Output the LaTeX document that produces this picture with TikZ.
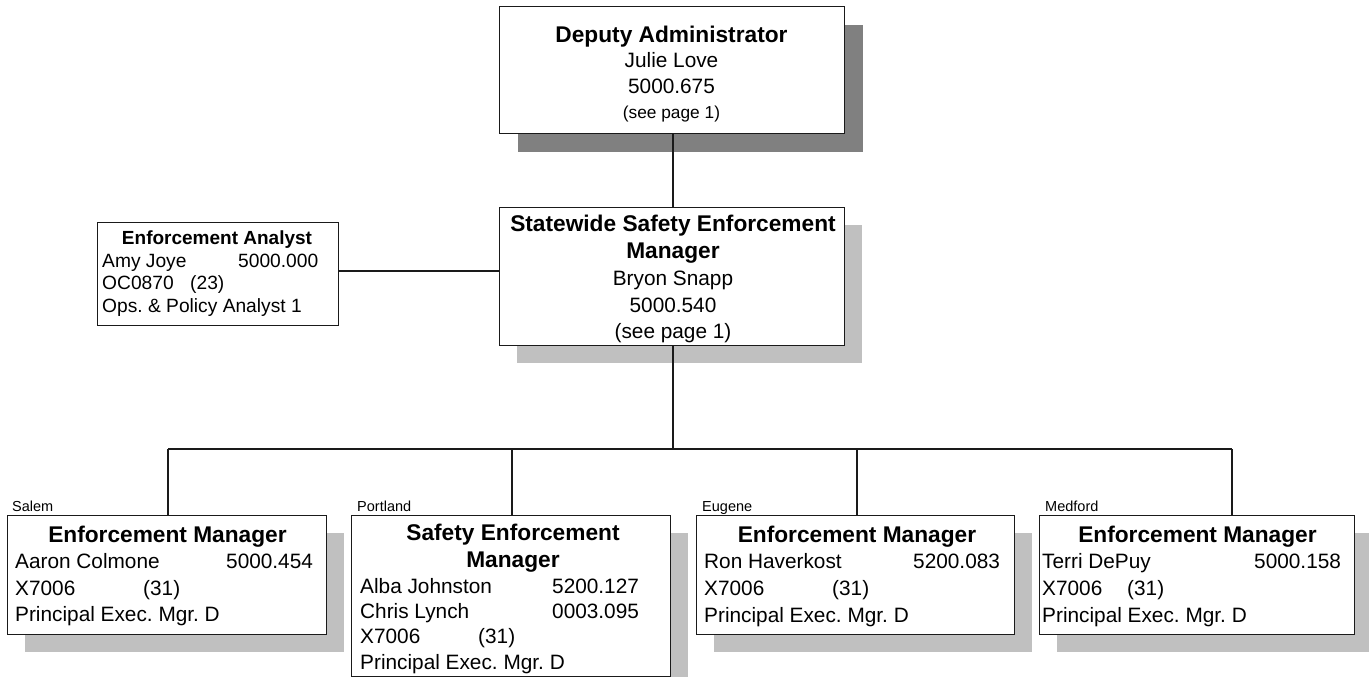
\documentclass[tikz,border=0pt]{standalone}
\usepackage{fontspec}
\setmainfont{Liberation Sans}
\usetikzlibrary{shadows}
\frenchspacing

\definecolor{darkshade}{HTML}{808080}
\definecolor{lightshade}{HTML}{C0C0C0}
\definecolor{rule}{HTML}{1A1A1A}

% type sizes used in the chart
\newcommand\orgtitle{\fontsize{22.7}{27}\selectfont\bfseries}
\newcommand\orgbody{\fontsize{20.8}{25}\selectfont}
\newcommand\orgsmall{\fontsize{17.3}{20}\selectfont}
\newcommand\orgmini{\fontsize{19.2}{22}\selectfont}
\newcommand\orgminititle{\fontsize{19}{22}\selectfont\bfseries}
\newcommand\orgtag{\fontsize{14.5}{16}\selectfont}

\tikzset{
  posbox/.style={draw=rule, line width=1.4pt, fill=white, rectangle,
    inner sep=0pt, anchor=north west},
  shade dark/.style={general shadow={fill=darkshade, shadow xshift=18pt, shadow yshift=-18pt}},
  shade light/.style={general shadow={fill=lightshade, shadow xshift=17pt, shadow yshift=-17pt}},
  link/.style={draw=rule, line width=1.2pt},
  ctr/.style={anchor=base, inner sep=0pt},
  lft/.style={anchor=base west, inner sep=0pt},
}

\begin{document}
\begin{tikzpicture}[x=1pt, y=-1pt]
\clip (0,0) rectangle (1369,677);
\fill[white] (0,0) rectangle (1369,677);

% ---- boxes ----
\node[posbox, shade dark,  minimum width=345pt, minimum height=127pt] (top) at (499,6) {};
\node[posbox, shade light, minimum width=345pt, minimum height=138pt] (mid) at (499,207) {};
\node[posbox, minimum width=241pt, minimum height=103pt] (analyst) at (97,222) {};
\node[posbox, shade light, minimum width=319pt, minimum height=119pt] (salem) at (7,515) {};
\node[posbox, shade light, minimum width=319pt, minimum height=161pt] (portland) at (351,515) {};
\node[posbox, shade light, minimum width=318pt, minimum height=119pt] (eugene) at (696,515) {};
\node[posbox, shade light, minimum width=315pt, minimum height=119pt] (medford) at (1039,515) {};

% ---- connectors ----
\coordinate (bus) at (673,449);
\coordinate (side) at (0,271);
\coordinate (dS) at (168,449);
\coordinate (dP) at (512,449);
\coordinate (dE) at (857,449);
\coordinate (dM) at (1232,449);

\draw[link] (top.south -| bus) -- (mid.north -| bus);
\draw[link] (mid.south -| bus) -- (bus);
\draw[link] (dS) -- (dM);
\draw[link] (dS) -- (dS |- salem.north);
\draw[link] (dP) -- (dP |- portland.north);
\draw[link] (dE) -- (dE |- eugene.north);
\draw[link] (dM) -- (dM |- medford.north);
\draw[link] (analyst.east |- side) -- (mid.west |- side);

% ---- Deputy Administrator ----
\node[ctr] (t1) at (671.5,43) {\orgtitle Deputy Administrator};
\node[ctr] (t2) at (671.5,67) {\orgbody Julie Love};
\node[ctr] (t3) at (671.5,94) {\orgbody 5000.675};
\node[ctr] (t4) at (671.5,118) {\orgsmall (see page 1)};

% ---- Statewide Safety Enforcement Manager ----
\node[ctr] (m1) at (673,231) {\orgtitle Statewide Safety Enforcement};
\node[ctr] (m2) at (673,258) {\orgtitle Manager};
\node[ctr] (m3) at (673,285) {\orgbody Bryon Snapp};
\node[ctr] (m4) at (673,312) {\orgbody 5000.540};
\node[ctr] (m5) at (673,338) {\orgbody (see page 1)};

% ---- Enforcement Analyst ----
\node[ctr] (a1) at (217,244) {\orgminititle Enforcement Analyst};
\node[lft] (a2) at (102,267) {\orgmini Amy Joye};
\node[lft] (a3) at (238,267) {\orgmini 5000.000};
\node[lft] (a4) at (102,289) {\orgmini OC0870};
\node[lft] (a5) at (190,289) {\orgmini (23)};
\node[lft] (a6) at (102,312) {\orgmini Ops. \& Policy Analyst 1};

% ---- Salem ----
\node[lft] (s0) at (12,511) {\orgtag Salem};
\node[ctr] (s1) at (167.5,542) {\orgtitle Enforcement Manager};
\node[lft] (s2) at (15,568) {\orgbody Aaron Colmone};
\node[lft] (s3) at (226,568) {\orgbody 5000.454};
\node[lft] (s4) at (15,595) {\orgbody X7006};
\node[lft] (s5) at (143,595) {\orgbody (31)};
\node[lft] (s6) at (15,621) {\orgbody Principal Exec. Mgr. D};

% ---- Portland ----
\node[lft] (p0) at (357,511) {\orgtag Portland};
\node[ctr] (p1) at (513,540) {\orgtitle Safety Enforcement};
\node[ctr] (p2) at (513,567) {\orgtitle Manager};
\node[lft] (p3) at (360,593) {\orgbody Alba Johnston};
\node[lft] (p4) at (552,593) {\orgbody 5200.127};
\node[lft] (p5) at (360,618) {\orgbody Chris Lynch};
\node[lft] (p6) at (552,618) {\orgbody 0003.095};
\node[lft] (p7) at (360,643) {\orgbody X7006};
\node[lft] (p8) at (478,643) {\orgbody (31)};
\node[lft] (p9) at (360,669) {\orgbody Principal Exec. Mgr. D};

% ---- Eugene ----
\node[lft] (e0) at (702,511) {\orgtag Eugene};
\node[ctr] (e1) at (857,542) {\orgtitle Enforcement Manager};
\node[lft] (e2) at (704,568) {\orgbody Ron Haverkost};
\node[lft] (e3) at (913,568) {\orgbody 5200.083};
\node[lft] (e4) at (704,595) {\orgbody X7006};
\node[lft] (e5) at (832,595) {\orgbody (31)};
\node[lft] (e6) at (704,622) {\orgbody Principal Exec. Mgr. D};

% ---- Medford ----
\node[lft] (f0) at (1045,511) {\orgtag Medford};
\node[ctr] (f1) at (1197.5,542) {\orgtitle Enforcement Manager};
\node[lft] (f2) at (1042,568) {\orgbody Terri DePuy};
\node[lft] (f3) at (1254,568) {\orgbody 5000.158};
\node[lft] (f4) at (1042,595) {\orgbody X7006};
\node[lft] (f5) at (1127,595) {\orgbody (31)};
\node[lft] (f6) at (1042,622) {\orgbody Principal Exec. Mgr. D};
\end{tikzpicture}
\end{document}
